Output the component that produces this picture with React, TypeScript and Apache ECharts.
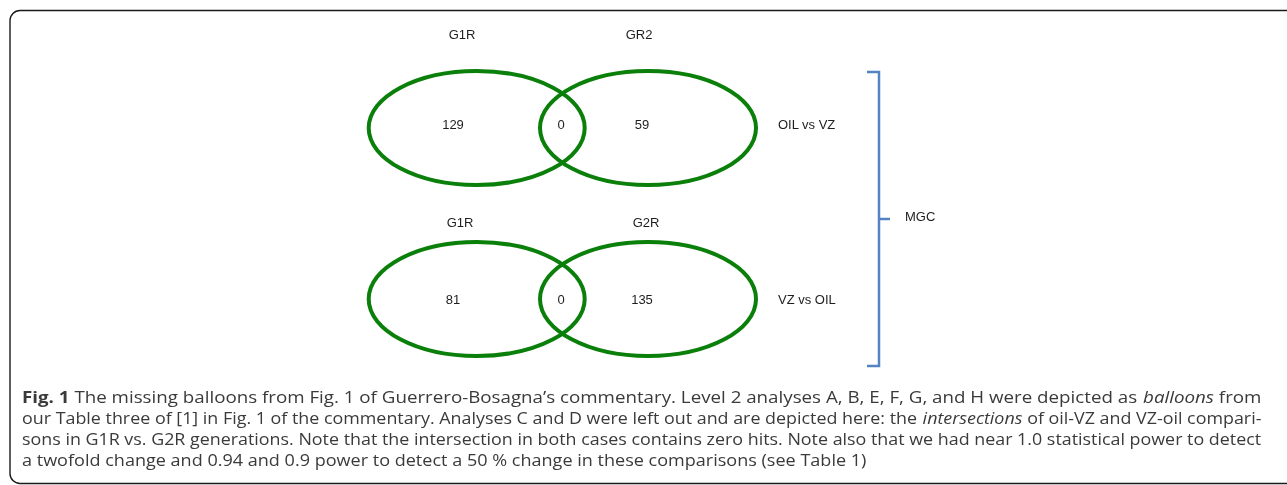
import React, { useEffect, useRef } from "react";
import * as echarts from "echarts";

// ---- data ----
const comparisons = ["OIL vs VZ", "VZ vs OIL"];
const setALabels = ["G1R", "G1R"];
const setBLabels = ["GR2", "G2R"];
const onlyA = [129, 81];
const intersection = [0, 0];
const onlyB = [59, 135];
const groupLabel = "MGC";
const captionLines = [
  "{b|Fig. 1} The missing balloons from Fig. 1 of Guerrero-Bosagna\u2019s commentary. Level 2 analyses A, B, E, F, G, and H were depicted as {i|balloons} from",
  "our Table three of [1] in Fig. 1 of the commentary. Analyses C and D were left out and are depicted here: the {i|intersections} of oil-VZ and VZ-oil compari-",
  "sons in G1R vs. G2R generations. Note that the intersection in both cases contains zero hits. Note also that we had near 1.0 statistical power to detect",
  "a twofold change and 0.94 and 0.9 power to detect a 50 % change in these comparisons (see Table 1)",
];

const W = 1287;
const H = 485;
const ROW_CY = [128, 299];
const ROW_TEXT_Y = [124, 299];
const SET_LABEL_Y = [34, 222];
const SET_A_LABEL_X = [462, 460];
const SET_B_LABEL_X = [639, 646];
const LEFT_CX = 476.7;
const RIGHT_CX = 648;
const RX = 108;
const RY = 57;
const GREEN = "#0a7f0a";
const TXT = "#1e1e1e";
const LABEL_FONT = "'Liberation Sans', Arial, Helvetica, sans-serif";
const CAP_FAMILY = "'Open Sans'";
const CAP_FONT = "'Open Sans', 'Noto Sans', sans-serif";
const CAP_SIZE = 15.5;
const CAP_X = 22;
const CAP_TARGET = [1240, 1240, 1240, 845];

function naturalWidth(line: string): number {
  const ctx = document.createElement("canvas").getContext("2d");
  if (!ctx) return 0;
  const re = /\{(b|i)\|([^}]*)\}/g;
  let last = 0;
  let w = 0;
  let m: RegExpExecArray | null;
  const meas = (t: string, pre: string) => {
    ctx.font = `${pre}${CAP_SIZE}px ${CAP_FAMILY}`;
    return ctx.measureText(t).width;
  };
  while ((m = re.exec(line))) {
    w += meas(line.slice(last, m.index), "");
    w += meas(m[2], m[1] === "b" ? "bold " : "italic ");
    last = m.index + m[0].length;
  }
  w += meas(line.slice(last), "");
  return w;
}

export default function App() {
  const ref = useRef<HTMLDivElement>(null);
  useEffect(() => {
    document.body.style.margin = "0";
    const chart = echarts.init(ref.current!, null, { renderer: "svg" });
    const textStyle = (text: string, align = "center") => ({
      text,
      align,
      verticalAlign: "middle",
      fontFamily: LABEL_FONT,
      fontSize: 13,
      fill: TXT,
    });
    const option: any = {
      animation: false,
      grid: { left: 0, right: 0, top: 0, bottom: 0 },
      xAxis: { type: "value", min: 0, max: W, show: false },
      yAxis: { type: "value", min: 0, max: H, inverse: true, show: false },
      series: [
        {
          type: "custom",
          coordinateSystem: "cartesian2d",
          data: comparisons.map((_, i) => [i, onlyA[i], intersection[i], onlyB[i]]),
          renderItem: (params: any, api: any) => {
            const i = api.value(0);
            const l = api.coord([LEFT_CX, ROW_CY[i]]);
            const r = api.coord([RIGHT_CX, ROW_CY[i]]);
            const edge = api.coord([LEFT_CX + RX, ROW_CY[i]]);
            const rx = edge[0] - l[0];
            const ryPt = api.coord([LEFT_CX, ROW_CY[i] + RY]);
            const ry = ryPt[1] - l[1];
            const tA = api.coord([453, ROW_TEXT_Y[i]]);
            const tI = api.coord([561, ROW_TEXT_Y[i]]);
            const tB = api.coord([642, ROW_TEXT_Y[i]]);
            const tC = api.coord([778, ROW_TEXT_Y[i]]);
            const la = api.coord([SET_A_LABEL_X[i], SET_LABEL_Y[i]]);
            const lb = api.coord([SET_B_LABEL_X[i], SET_LABEL_Y[i]]);
            return {
              type: "group",
              children: [
                { type: "ellipse", shape: { cx: l[0], cy: l[1], rx, ry }, style: { fill: "none", stroke: GREEN, lineWidth: 4 } },
                { type: "ellipse", shape: { cx: r[0], cy: r[1], rx, ry }, style: { fill: "none", stroke: GREEN, lineWidth: 4 } },
                { type: "text", x: tA[0], y: tA[1], style: textStyle(String(api.value(1))) },
                { type: "text", x: tI[0], y: tI[1], style: textStyle(String(api.value(2))) },
                { type: "text", x: tB[0], y: tB[1], style: textStyle(String(api.value(3))) },
                { type: "text", x: tC[0], y: tC[1], style: textStyle(comparisons[i], "left") },
                { type: "text", x: la[0], y: la[1], style: textStyle(setALabels[i]) },
                { type: "text", x: lb[0], y: lb[1], style: textStyle(setBLabels[i]) },
              ],
            };
          },
        },
      ],
      graphic: [
        {
          type: "rect",
          shape: { x: 10, y: 10.5, width: 1300, height: 473, r: 10 },
          style: { fill: "none", stroke: "#1a1a1a", lineWidth: 1.4 },
          silent: true,
        },
        {
          type: "polyline",
          shape: { points: [[867, 72], [879, 72], [879, 366], [867, 366]] },
          style: { fill: "none", stroke: "#5483c3", lineWidth: 2.5 },
        },
        {
          type: "line",
          shape: { x1: 879, y1: 219, x2: 890, y2: 219 },
          style: { stroke: "#5483c3", lineWidth: 2.5 },
        },
        {
          type: "text",
          x: 905,
          y: 216,
          style: { text: groupLabel, align: "left", verticalAlign: "middle", fontFamily: LABEL_FONT, fontSize: 13, fill: TXT },
        },
        ...captionLines.map((line, k) => {
          const nat = naturalWidth(line);
          const sx = nat > 0 ? CAP_TARGET[k] / nat : 1;
          return {
            type: "text",
            x: CAP_X,
            y: 397 + k * 21,
            scaleX: sx,
            style: {
              text: line,
              align: "left",
              verticalAlign: "middle",
              fontFamily: CAP_FONT,
              fontSize: CAP_SIZE,
              fill: "#3a3a3a",
              rich: {
                b: { fontFamily: CAP_FONT, fontSize: CAP_SIZE, fontWeight: "bold", fill: "#3a3a3a" },
                i: { fontFamily: CAP_FONT, fontSize: CAP_SIZE, fontStyle: "italic", fill: "#3a3a3a" },
              },
            },
          };
        }),
      ],
    };
    chart.setOption(option);
    return () => chart.dispose();
  }, []);
  return <div ref={ref} style={{ position: "fixed", left: 0, top: 0, width: W, height: H }} />;
}
